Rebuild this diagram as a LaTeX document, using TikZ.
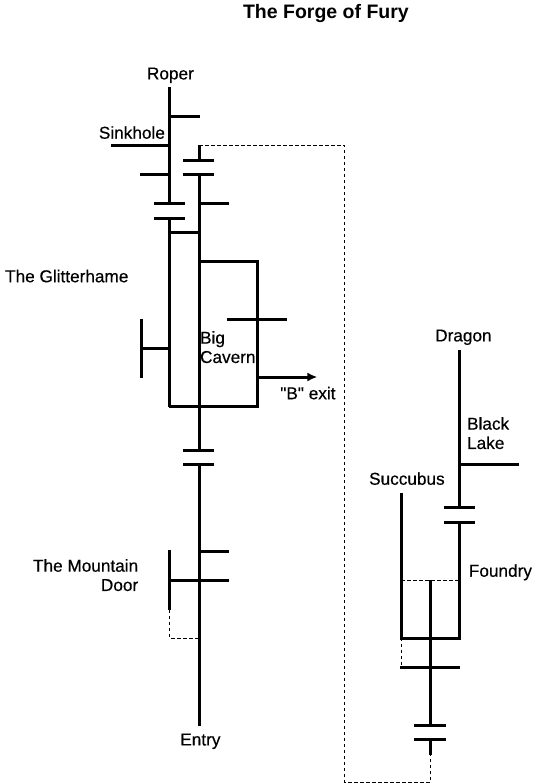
\documentclass[tikz,border=0pt]{standalone}
\usepackage{fontspec}
\setmainfont{Liberation Sans}
\newfontfamily\lblfont[FakeBold=0.4]{Liberation Sans}
\usetikzlibrary{arrows.meta}
\tikzset{
  wall/.style={line width=3pt,black,line cap=butt,line join=miter},
  passage/.style={line width=1pt,black,dash pattern=on 3.4pt off 2.6pt},
  lbl/.style={inner sep=0pt,font=\lblfont\fontsize{17.2}{19.3}\selectfont,text depth=0pt},
  lblb/.style={lbl,align=left,anchor=north west},
}
\begin{document}
\begin{tikzpicture}[x=1pt,y=-1pt]
\useasboundingbox (0.6,0) rectangle (557.6,784);
% named junctions
\coordinate (rT) at (170,87);
\coordinate (rD) at (170,203);
\coordinate (rD2) at (170,218);
\coordinate (rB) at (170,406.5);
\coordinate (mT) at (200,145);
\coordinate (mD) at (200,160);
\coordinate (mD2) at (200,174);
\coordinate (mB) at (200,450);
\coordinate (mC) at (200,464);
\coordinate (mE) at (200,726);
\coordinate (sT) at (345,145);
\coordinate (sB) at (345,782);
\coordinate (fB) at (431,782);
\coordinate (fE) at (431,755);
\coordinate (fD2) at (431,739);
\coordinate (fD) at (431,725);
\coordinate (fT) at (431,580);
\coordinate (dT) at (460,350);
\coordinate (dD) at (460,507);
\coordinate (dD2) at (460,522);
\coordinate (dB) at (460,638);
\coordinate (cT) at (402,493);
\coordinate (cB) at (402,638);
% left column
\draw[wall] (rT) -- (rD);
\draw[wall] (rD2) -- (rB);
\draw[wall] (170,116) -- (201,116);
\draw[wall] (112,145) -- (170,145);
\draw[wall] (141,174) -- (170,174);
\draw[wall] (155,203) -- (186,203);
\draw[wall] (155,218) -- (186,218);
\draw[wall] (170,232) -- (200,232);
% middle column
\draw[wall] (mT) -- (mD);
\draw[wall] (mD2) -- (mB);
\draw[wall] (mC) -- (mE);
\draw[wall] (184,160) -- (215,160);
\draw[wall] (184,174) -- (215,174);
\draw[wall] (200,203) -- (230,203);
\draw[wall] (184,450) -- (215,450);
\draw[wall] (184,464) -- (215,464);
% big cavern
\draw[wall] (200,261) -| (258,406.5) -- (rB);
\draw[wall] (228,319) -- (288,319);
\draw[wall] (142,319) -- (142,378);
\draw[wall] (142,348) -- (170,348);
\draw[line width=3pt,-{Latex[length=10pt,width=9pt]}] (258,377) -- (318,377);
% mountain door
\draw[wall] (200,551) -- (230,551);
\draw[wall] (170,580) -- (230,580);
\draw[wall] (170,550) -- (170,610);
\draw[passage] (170,610) |- (200,638);
% right part
\draw[wall] (dT) -- (dD);
\draw[wall] (dD2) -- (dB) -- (cB) -- (cT);
\draw[wall] (445,507) -- (476,507);
\draw[wall] (445,522) -- (476,522);
\draw[wall] (460,464) -- (519.5,464);
\draw[wall] (fT) -- (fD);
\draw[wall] (fD2) -- (fE);
\draw[wall] (415,725) -- (447,725);
\draw[wall] (415,739) -- (447,739);
\draw[wall] (401,667) -- (461,667);
\draw[passage] (402,580) -- (460,580);
\draw[passage] (cB) -- (402,667);
% long dashed passage
\draw[passage] (mT) -- (sT) -- (sB) -- (fB) -- (fE);
% labels
\node[lbl,anchor=center,font=\bfseries\fontsize{19.5}{23}\selectfont] (title) at (326.5,11) {The Forge of Fury};
\node[lbl,anchor=center] (roper) at (171,73.5) {Roper};
\node[lbl,anchor=center] (sink) at (132.5,132.5) {Sinkhole};
\node[lbl,anchor=west] (glit) at (5.5,276) {The Glitterhame};
\node[lblb] (big) at (200.5,331) {Big\\Cavern};
\node[lbl,anchor=center] (bexit) at (308.5,393) {"B" exit};
\node[lbl,anchor=north east,align=right] (door) at (139,559) {The Mountain\\Door};
\node[lbl,anchor=center] (entry) at (201,739.5) {Entry};
\node[lbl,anchor=center] (dragon) at (464,335.5) {Dragon};
\node[lblb] (lake) at (467.5,417) {Black\\Lake};
\node[lbl,anchor=center] (succ) at (407.5,478.5) {Succubus};
\node[lbl,anchor=center] (foundry) at (501,570.5) {Foundry};
\end{tikzpicture}
\end{document}
